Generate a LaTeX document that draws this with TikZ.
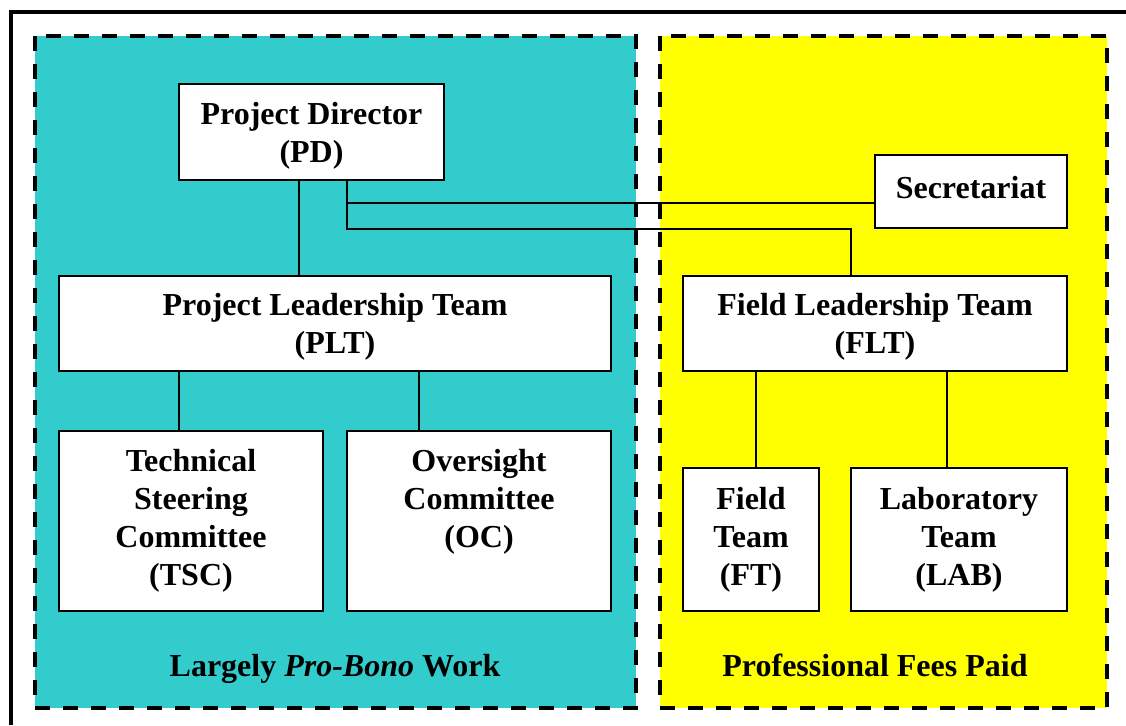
\documentclass[tikz,border=0pt]{standalone}
\usepackage{fontspec}
\setmainfont{Liberation Serif}
\usetikzlibrary{arrows,shapes}
\definecolor{probono}{RGB}{51,204,204}
\definecolor{feespaid}{RGB}{255,255,0}
\tikzstyle{box}=[draw,fill=white,line width=1pt,align=center,inner sep=0pt,font=\fontsize{16}{19}\selectfont\bfseries]
\tikzstyle{region}=[draw,line width=1.75pt,dash pattern=on 7.5pt off 6.5pt]
\tikzstyle{link}=[draw,line width=1pt]
\tikzstyle{caption}=[anchor=base,font=\fontsize{16}{19}\selectfont\bfseries]

\begin{document}
\begin{tikzpicture}[x=0.5pt,y=-0.5pt]
	\useasboundingbox (0,0) rectangle (1126,725);
	\draw[line width=1.75pt] (11,725) -- (11,12) -- (1126,12);
	
	\path[region,fill=probono] (35,36) rectangle (636,708);
	\path[region,fill=feespaid] (660,36) rectangle (1107,708);
	
	\foreach \pos/\name/\w/\h/\d/\txt in {{(311.5,132)/pd/132.5/48/0/{Project Director\\(PD)}},
		{(971,191.5)/sec/96/36.5/4/{Secretariat}},
		{(335,323.5)/plt/276/47.5/0/{Project Leadership Team\\(PLT)}},
		{(875,323.5)/flt/192/47.5/0/{Field Leadership Team\\(FLT)}},
		{(191,521)/tsc/132/90/3.5/{Technical\\Steering\\Committee\\(TSC)}},
		{(479,521)/oc/132/90/3.5/{Oversight\\Committee\\(OC)\\\vphantom{(}}},
		{(751,539.5)/ft/68/71.5/3.5/{Field\\Team\\(FT)}},
		{(959,539.5)/lab/108/71.5/3.5/{Laboratory\\Team\\(LAB)}}}
	\node[box, minimum width=\w pt, minimum height=\h pt, text depth=\d pt] (\name) at \pos {\txt};
	
	\foreach \low/\up/\dx in {plt/pd/-18, tsc/plt/-6, oc/plt/-30, ft/flt/2.5, lab/flt/-6}
	\path[link] ([xshift=\dx pt]\low.north) -- ([xshift=\dx pt]\low.north |- \up.south);
	
	\path[link] ([xshift=17.75pt]pd.south) |- ([yshift=-5.75pt]sec.west);
	\path[link] ([xshift=17.75pt]pd.south) -- ++(0,48) -| ([xshift=-12pt]flt.north);
	
	\node[caption] (probonolabel) at (335,676) {Largely \textit{Pro-Bono} Work};
	\node[caption] (feeslabel) at (875,676) {Professional Fees Paid};
\end{tikzpicture}
\end{document}
